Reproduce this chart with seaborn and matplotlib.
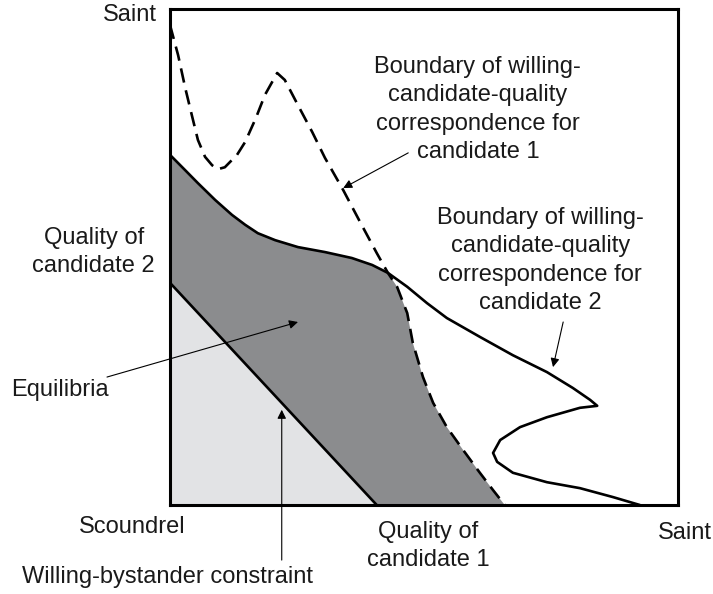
import matplotlib
matplotlib.use("Agg")
import matplotlib.pyplot as plt
import seaborn as sns

# ── data (unit square: 0 = scoundrel, 1 = saint) ─────────────────────────────
# boundary of willing-candidate-quality correspondence, candidate 1 (dashed)
cand1_x = [0.000, 0.016, 0.030, 0.043, 0.055, 0.069, 0.083, 0.094, 0.108, 0.132,
           0.148, 0.169, 0.187, 0.211, 0.226, 0.252, 0.280, 0.305, 0.341, 0.374,
           0.407, 0.429, 0.447, 0.467, 0.478, 0.498, 0.518, 0.545, 0.577, 0.610,
           0.636, 0.659]
cand1_y = [0.968, 0.907, 0.841, 0.786, 0.736, 0.702, 0.685, 0.677, 0.681, 0.706,
           0.732, 0.780, 0.827, 0.871, 0.857, 0.806, 0.752, 0.700, 0.635, 0.571,
           0.508, 0.468, 0.440, 0.387, 0.327, 0.258, 0.206, 0.157, 0.111, 0.065,
           0.030, 0.000]

# boundary of willing-candidate-quality correspondence, candidate 2 (solid)
cand2_x = [0.000, 0.030, 0.055, 0.089, 0.122, 0.148, 0.173, 0.207, 0.252, 0.305,
           0.358, 0.398, 0.429, 0.467, 0.506, 0.545, 0.610, 0.675, 0.742, 0.793,
           0.827, 0.841, 0.807, 0.742, 0.689, 0.650, 0.636, 0.644, 0.675, 0.742,
           0.807, 0.872, 0.925]
cand2_y = [0.706, 0.675, 0.649, 0.615, 0.585, 0.565, 0.548, 0.534, 0.520, 0.510,
           0.498, 0.484, 0.468, 0.440, 0.407, 0.377, 0.339, 0.302, 0.268, 0.236,
           0.212, 0.200, 0.196, 0.177, 0.157, 0.131, 0.105, 0.087, 0.065, 0.046,
           0.034, 0.016, 0.000]

# willing-bystander constraint
bystander_x = [0.000, 0.407]
bystander_y = [0.448, 0.000]

CROSS_C2 = 12   # index of the crossing point in cand2
CROSS_C1 = 21   # index of the crossing point in cand1

DARK = "#8b8c8e"
LIGHT = "#e2e3e5"
FONT = 17

sns.set_style("white")
plt.rcParams["font.family"] = ["Liberation Sans", "DejaVu Sans"]

fig = plt.figure(figsize=(7.13, 5.94), dpi=100)
ax = fig.add_axes([0.2384, 0.1498, 0.7125, 0.835])

# light region under the bystander constraint
ax.fill(bystander_x + [0.0], bystander_y + [0.0], color=LIGHT, lw=0, zorder=1)

# equilibria: above bystander line, below both boundaries
eq_x = cand2_x[:CROSS_C2 + 1] + cand1_x[CROSS_C1 + 1:] + bystander_x[::-1]
eq_y = cand2_y[:CROSS_C2 + 1] + cand1_y[CROSS_C1 + 1:] + bystander_y[::-1]
ax.fill(eq_x, eq_y, color=DARK, lw=0, zorder=2)

sns.lineplot(x=cand2_x, y=cand2_y, sort=False, estimator=None, color="black",
             lw=1.9, ax=ax, zorder=4)
sns.lineplot(x=cand1_x, y=cand1_y, sort=False, estimator=None, color="black",
             lw=1.9, ax=ax, zorder=5)
ax.lines[-1].set_dashes([5.5, 3.0])
sns.lineplot(x=bystander_x, y=bystander_y, color="black", lw=1.9, ax=ax, zorder=4)
for ln in ax.lines:
    ln.set_solid_joinstyle("round")
    ln.set_dash_joinstyle("round")

ax.set_xlim(0, 1)
ax.set_ylim(0, 1)
ax.set_xticks([])
ax.set_yticks([])
ax.set_xlabel("")
ax.set_ylabel("")
for sp in ax.spines.values():
    sp.set_visible(True)
    sp.set_color("black")
    sp.set_linewidth(2.2)
    sp.set_zorder(6)

# ── labels ──────────────────────────────────────────────────────────────────
txt = dict(fontsize=FONT, ha="center", va="center", clip_on=False,
           color="#1a1a1a", linespacing=1.38)
ax.text(-0.079, 0.988, "Saint", **txt)
ax.text(-0.150, 0.510, "Quality of\ncandidate 2", **txt)
ax.text(-0.217, 0.232, "Equilibria", **txt)
ax.text(-0.075, -0.044, "Scoundrel", **txt)
ax.text(-0.004, -0.145, "Willing-bystander constraint", **txt)
ax.text(0.508, -0.083, "Quality of\ncandidate 1", **txt)
ax.text(1.014, -0.056, "Saint", **txt)
ax.text(0.606, 0.797, "Boundary of willing-\ncandidate-quality\ncorrespondence for\ncandidate 1", **txt)
ax.text(0.729, 0.493, "Boundary of willing-\ncandidate-quality\ncorrespondence for\ncandidate 2", **txt)

arrow = dict(arrowstyle="-|>", color="black", lw=0.8, mutation_scale=13,
             shrinkA=0, shrinkB=0)
ax.annotate("", xy=(0.341, 0.639), xytext=(0.469, 0.710), arrowprops=arrow,
            annotation_clip=False, zorder=7)
ax.annotate("", xy=(0.754, 0.278), xytext=(0.774, 0.369), arrowprops=arrow,
            annotation_clip=False, zorder=7)
ax.annotate("", xy=(0.252, 0.369), xytext=(-0.124, 0.258), arrowprops=arrow,
            annotation_clip=False, zorder=7)
ax.annotate("", xy=(0.220, 0.192), xytext=(0.220, -0.111), arrowprops=arrow,
            annotation_clip=False, zorder=7)

fig.savefig("out.png", dpi=100)
